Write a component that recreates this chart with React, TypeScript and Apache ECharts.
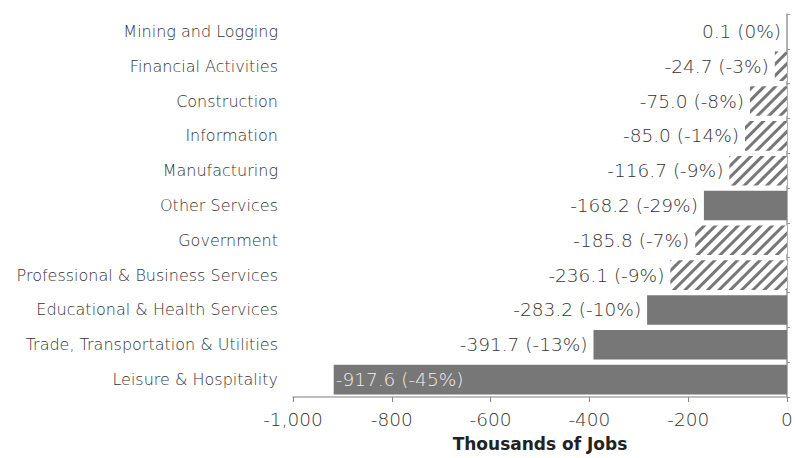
import React, { useEffect, useRef } from "react";
import * as echarts from "echarts";

const categories = [
  "Mining and Logging",
  "Financial Activities",
  "Construction",
  "Information",
  "Manufacturing",
  "Other Services",
  "Government",
  "Professional & Business Services",
  "Educational & Health Services",
  "Trade, Transportation & Utilities",
  "Leisure & Hospitality",
];
const values = [0.1, -24.7, -75.0, -85.0, -116.7, -168.2, -185.8, -236.1, -283.2, -391.7, -917.6];
const percents = [0, -3, -8, -14, -9, -29, -7, -9, -10, -13, -45];
const hatched = [true, true, true, true, true, false, true, true, false, false, false];
const xTicks = [-1000, -800, -600, -400, -200, 0];

const FONT = "DejaVu Sans";
const TEXT = "#333";

export default function App() {
  const ref = useRef<HTMLDivElement>(null);
  useEffect(() => {
    if (!ref.current) return;
    const chart = echarts.init(ref.current, null, { renderer: "svg" });
    const data = values.map((v, i) => {
      const isLast = i === values.length - 1;
      const item: any = {
        value: v,
        itemStyle: hatched[i]
          ? {
              color: "#ffffff",
              decal: {
                symbol: "rect",
                color: "#777777",
                backgroundColor: "#ffffff",
                dashArrayX: [1, 0],
                dashArrayY: [2.2, 4.8],
                rotation: -Math.PI / 4,
              },
            }
          : { color: "#777777" },
      };
      if (isLast) {
        item.label = {
          position: "insideLeft",
          distance: 2,
          color: "#eeeeee",
        };
      }
      return item;
    });
    chart.setOption({
      animation: false,
      grid: {
        left: 293,
        right: 8,
        top: 14,
        bottom: 61,
        containLabel: false,
        outerBoundsMode: "none",
      },
      xAxis: {
        type: "value",
        min: xTicks[0],
        max: xTicks[xTicks.length - 1],
        interval: 200,
        splitLine: { show: false },
        axisLine: { show: true, lineStyle: { color: "#aaa", width: 1.5 } },
        axisTick: { show: true, length: 5, lineStyle: { color: "#888" } },
        axisLabel: {
          color: TEXT,
          fontFamily: FONT,
          fontWeight: 300,
          fontSize: 18.5,
          margin: 13,
          formatter: (v: number) => v.toLocaleString("en-US"),
        },
        name: "Thousands of Jobs",
        nameLocation: "middle",
        nameGap: 38,
        nameTextStyle: { color: "#222", fontFamily: FONT, fontSize: 17, fontWeight: "bold" },
      },
      yAxis: [
        {
          type: "category",
          data: categories,
          inverse: true,
          position: "left",
          axisLine: { show: false },
          axisTick: { show: false },
          axisLabel: { color: TEXT, fontFamily: FONT, fontWeight: 300, fontSize: 16, margin: 15 },
        },
        {
          type: "category",
          data: categories,
          inverse: true,
          position: "right",
          axisLine: { show: true, lineStyle: { color: "#999", width: 1.5 } },
          axisTick: { show: true, length: 3, inside: false, lineStyle: { color: "#999" } },
          axisLabel: { show: false },
        },
      ],
      series: [
        {
          type: "bar",
          yAxisIndex: 0,
          data,
          barCategoryGap: "15%",
          label: {
            show: true,
            position: "left",
            distance: 6,
            color: TEXT,
            fontFamily: FONT,
            fontWeight: 300,
            fontSize: 18.5,
            formatter: (p: any) => `${values[p.dataIndex].toFixed(1)} (${percents[p.dataIndex]}%)`,
          },
        },
      ],
    });
    return () => chart.dispose();
  }, []);
  return <div ref={ref} style={{ width: 795, height: 458, position: "absolute", left: 0, top: 0 }} />;
}
